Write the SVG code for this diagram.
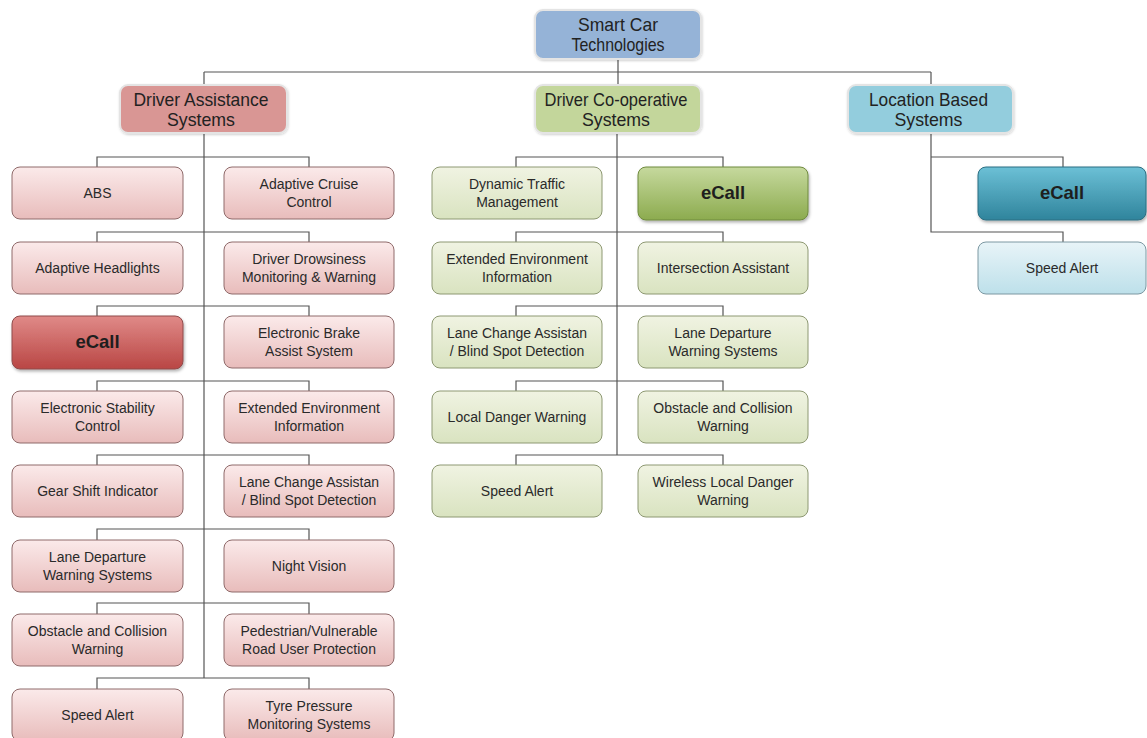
<svg xmlns="http://www.w3.org/2000/svg" width="1147" height="738" viewBox="0 0 1147 738">
<defs>
<linearGradient id="gRed" x1="0" y1="0" x2="0" y2="1"><stop offset="0" stop-color="#fbeaea"/><stop offset="1" stop-color="#e8bcbb"/></linearGradient>
<linearGradient id="gRedE" x1="0" y1="0" x2="0" y2="1"><stop offset="0" stop-color="#e08a88"/><stop offset="1" stop-color="#b94644"/></linearGradient>
<linearGradient id="gGrn" x1="0" y1="0" x2="0" y2="1"><stop offset="0" stop-color="#f0f3e2"/><stop offset="1" stop-color="#d9e3c0"/></linearGradient>
<linearGradient id="gGrnE" x1="0" y1="0" x2="0" y2="1"><stop offset="0" stop-color="#c6d99e"/><stop offset="1" stop-color="#8cab4e"/></linearGradient>
<linearGradient id="gBlu" x1="0" y1="0" x2="0" y2="1"><stop offset="0" stop-color="#e8f4f8"/><stop offset="1" stop-color="#bde0ea"/></linearGradient>
<linearGradient id="gBluE" x1="0" y1="0" x2="0" y2="1"><stop offset="0" stop-color="#6cc0d6"/><stop offset="1" stop-color="#2f849c"/></linearGradient>
<filter id="sh" x="-10%" y="-10%" width="125%" height="135%"><feDropShadow dx="1" dy="2" stdDeviation="1.5" flood-color="#000" flood-opacity="0.3"/></filter>
<filter id="sh2" x="-10%" y="-10%" width="125%" height="135%"><feDropShadow dx="0.5" dy="1" stdDeviation="1" flood-color="#000" flood-opacity="0.18"/></filter>
</defs>
<style>
.bg{fill:#ffffff}
.conn path{fill:none;stroke:#555;stroke-width:1.2}
.hdr{stroke:#e4e4e4;stroke-width:2;filter:url(#sh2)}
.r{fill:url(#gRed);stroke:#8f6a6a;stroke-width:1}
.re{fill:url(#gRedE);stroke:#8f4a4a;stroke-width:1;filter:url(#sh)}
.g{fill:url(#gGrn);stroke:#8d9872;stroke-width:1}
.ge{fill:url(#gGrnE);stroke:#6f8a3e;stroke-width:1;filter:url(#sh)}
.b{fill:url(#gBlu);stroke:#7c98a2;stroke-width:1}
.be{fill:url(#gBluE);stroke:#2d6f82;stroke-width:1;filter:url(#sh)}
text{font-family:"Liberation Sans",Arial,sans-serif;fill:#2a2a2a;text-anchor:middle}
.h{font-size:19px;fill:#222}
.t{font-size:14px}
.e{font-size:18.5px;font-weight:bold;fill:#1e1e1e}
</style>
<rect class="bg" x="0" y="0" width="1147" height="738"/>
<g id="connectors" class="conn">
<path d="M618 59V72M204 72H931M204 72V85M618 72V85M931 72V85"/>
<path d="M204 133V678"/>
<path d="M97 167V157H309V167M97 242V232H309V242M97 316V306H309V316M97 391V381H309V391M97 465V455H309V465M97 540V529H309V540M97 614V603H309V614M97 689V678H309V689"/>
<path d="M617 133V455"/>
<path d="M516 167V157H723V167M516 242V232H723V242M516 316V306H723V316M516 391V381H723V391M516 465V455H723V465"/>
<path d="M931 133V232H1063V242M931 157H1063V167"/>
</g>
<g id="root"><rect class="hdr" x="535" y="10" width="166" height="49" rx="8" fill="#95b3d7"/><text class="h" x="618" y="31" textLength="80" lengthAdjust="spacingAndGlyphs">Smart Car</text><text class="h" x="618" y="51" textLength="93" lengthAdjust="spacingAndGlyphs">Technologies</text></g>
<g id="das"><rect class="hdr" x="120" y="85" width="167" height="48" rx="8" fill="#d99694"/><text class="h" x="201" y="106" textLength="135" lengthAdjust="spacingAndGlyphs">Driver Assistance</text><text class="h" x="201" y="126" textLength="68" lengthAdjust="spacingAndGlyphs">Systems</text></g>
<g id="dcs"><rect class="hdr" x="535" y="85" width="166" height="48" rx="8" fill="#c3d69b"/><text class="h" x="616" y="106" textLength="143" lengthAdjust="spacingAndGlyphs">Driver Co-operative</text><text class="h" x="616" y="126" textLength="68" lengthAdjust="spacingAndGlyphs">Systems</text></g>
<g id="lbs"><rect class="hdr" x="848" y="85" width="165" height="48" rx="8" fill="#93cddd"/><text class="h" x="928.5" y="106" textLength="119" lengthAdjust="spacingAndGlyphs">Location Based</text><text class="h" x="928.5" y="126" textLength="68" lengthAdjust="spacingAndGlyphs">Systems</text></g>

<g id="abs"><rect class="r" x="12" y="167" width="171" height="52" rx="8"/><text class="t" x="97.5" y="198">ABS</text></g>
<g id="acc"><rect class="r" x="224" y="167" width="170" height="52" rx="8"/><text class="t" x="309" y="189">Adaptive Cruise</text><text class="t" x="309" y="207">Control</text></g>
<g id="ah"><rect class="r" x="12" y="242" width="171" height="52" rx="8"/><text class="t" x="97.5" y="273">Adaptive Headlights</text></g>
<g id="ddm"><rect class="r" x="224" y="242" width="170" height="52" rx="8"/><text class="t" x="309" y="264">Driver Drowsiness</text><text class="t" x="309" y="282">Monitoring &amp; Warning</text></g>
<g id="ecall1"><rect class="re" x="12" y="316" width="171" height="53" rx="8"/><text class="e" x="97.5" y="348">eCall</text></g>
<g id="eba"><rect class="r" x="224" y="316" width="170" height="52" rx="8"/><text class="t" x="309" y="338">Electronic Brake</text><text class="t" x="309" y="356">Assist System</text></g>
<g id="esc"><rect class="r" x="12" y="391" width="171" height="52" rx="8"/><text class="t" x="97.5" y="413">Electronic Stability</text><text class="t" x="97.5" y="431">Control</text></g>
<g id="eei1"><rect class="r" x="224" y="391" width="170" height="52" rx="8"/><text class="t" x="309" y="413">Extended Environment</text><text class="t" x="309" y="431">Information</text></g>
<g id="gsi"><rect class="r" x="12" y="465" width="171" height="52" rx="8"/><text class="t" x="97.5" y="496">Gear Shift Indicator</text></g>
<g id="lca1"><rect class="r" x="224" y="465" width="170" height="52" rx="8"/><text class="t" x="309" y="487">Lane Change Assistan</text><text class="t" x="309" y="505">/ Blind Spot Detection</text></g>
<g id="ldw1"><rect class="r" x="12" y="540" width="171" height="52" rx="8"/><text class="t" x="97.5" y="562">Lane Departure</text><text class="t" x="97.5" y="580">Warning Systems</text></g>
<g id="nv"><rect class="r" x="224" y="540" width="170" height="52" rx="8"/><text class="t" x="309" y="571">Night Vision</text></g>
<g id="ocw1"><rect class="r" x="12" y="614" width="171" height="52" rx="8"/><text class="t" x="97.5" y="636">Obstacle and Collision</text><text class="t" x="97.5" y="654">Warning</text></g>
<g id="pvu"><rect class="r" x="224" y="614" width="170" height="52" rx="8"/><text class="t" x="309" y="636">Pedestrian/Vulnerable</text><text class="t" x="309" y="654">Road User Protection</text></g>
<g id="sa1"><rect class="r" x="12" y="689" width="171" height="52" rx="8"/><text class="t" x="97.5" y="720">Speed Alert</text></g>
<g id="tpm"><rect class="r" x="224" y="689" width="170" height="52" rx="8"/><text class="t" x="309" y="711">Tyre Pressure</text><text class="t" x="309" y="729">Monitoring Systems</text></g>

<g id="dtm"><rect class="g" x="432" y="167" width="170" height="52" rx="8"/><text class="t" x="517" y="189">Dynamic Traffic</text><text class="t" x="517" y="207">Management</text></g>
<g id="ecall2"><rect class="ge" x="638" y="167" width="170" height="53" rx="8"/><text class="e" x="723" y="199">eCall</text></g>
<g id="eei2"><rect class="g" x="432" y="242" width="170" height="52" rx="8"/><text class="t" x="517" y="264">Extended Environment</text><text class="t" x="517" y="282">Information</text></g>
<g id="ia"><rect class="g" x="638" y="242" width="170" height="52" rx="8"/><text class="t" x="723" y="273">Intersection Assistant</text></g>
<g id="lca2"><rect class="g" x="432" y="316" width="170" height="52" rx="8"/><text class="t" x="517" y="338">Lane Change Assistan</text><text class="t" x="517" y="356">/ Blind Spot Detection</text></g>
<g id="ldw2"><rect class="g" x="638" y="316" width="170" height="52" rx="8"/><text class="t" x="723" y="338">Lane Departure</text><text class="t" x="723" y="356">Warning Systems</text></g>
<g id="ldw"><rect class="g" x="432" y="391" width="170" height="52" rx="8"/><text class="t" x="517" y="422">Local Danger Warning</text></g>
<g id="ocw2"><rect class="g" x="638" y="391" width="170" height="52" rx="8"/><text class="t" x="723" y="413">Obstacle and Collision</text><text class="t" x="723" y="431">Warning</text></g>
<g id="sa2"><rect class="g" x="432" y="465" width="170" height="52" rx="8"/><text class="t" x="517" y="496">Speed Alert</text></g>
<g id="wldw"><rect class="g" x="638" y="465" width="170" height="52" rx="8"/><text class="t" x="723" y="487">Wireless Local Danger</text><text class="t" x="723" y="505">Warning</text></g>

<g id="ecall3"><rect class="be" x="978" y="167" width="168" height="53" rx="8"/><text class="e" x="1062" y="199">eCall</text></g>
<g id="sa3"><rect class="b" x="978" y="242" width="168" height="52" rx="8"/><text class="t" x="1062" y="273">Speed Alert</text></g>
</svg>
